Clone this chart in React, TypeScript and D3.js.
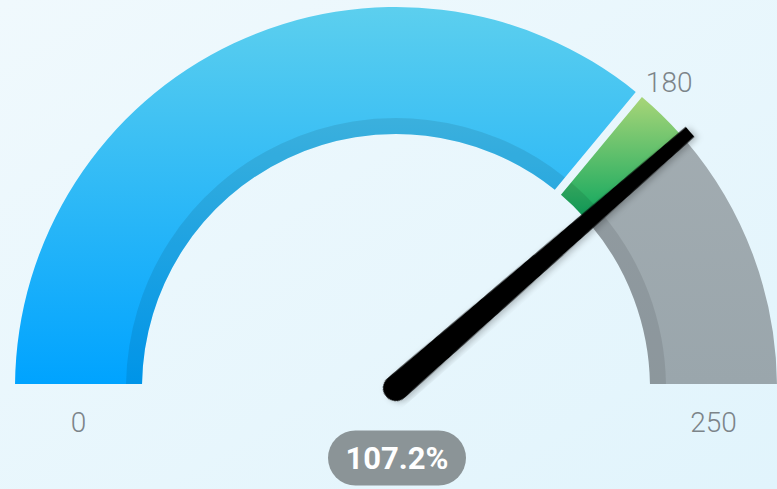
import * as d3 from 'd3';

const width = 777;
const height = 489;

// gauge data
const gaugeMin = 0;
const gaugeMax = 250;
const target = 180;
const value = 192.96;
const tickValues = [0, 180, 250];

const bands = [
    { name: 'base', from: 0, to: 180, fill: 'url(#gBlue)' },
    { name: 'over', from: 180, to: 192.96, fill: 'url(#gGreen)' },
    { name: 'rest', from: 192.96, to: 250, fill: 'url(#gGrey)' },
];

export default function App() {
    const cx = 396;
    const cy = 388;
    const outerR = 381;
    const innerR = 254;
    const shadeR = 270;

    const angle = d3.scaleLinear().domain([gaugeMin, gaugeMax]).range([-Math.PI / 2, Math.PI / 2]);

    const arc = d3.arc<any>()
        .padAngle(0.021)
        .padRadius(outerR);

    const toXY = (v: number, r: number) => {
        const a = angle(v);
        return [cx + r * Math.sin(a), cy - r * Math.cos(a)];
    };

    const needleDeg = (angle(value) - Math.PI / 2) * 180 / Math.PI;
    const needleLen = 390;
    const baseHalf = 13;
    const tipHalf = 6.5;
    const needlePath = `M0,${-baseHalf} L${needleLen},${-tipHalf} L${needleLen},${tipHalf} L0,${baseHalf} A${baseHalf},${baseHalf} 0 0 1 0,${-baseHalf} Z`;

    const pct = (value / target * 100).toFixed(1) + '%';
    const midR = (outerR + innerR) / 2;
    const [tx, ty] = toXY(target, outerR);

    return (
        <svg width={width} height={height} style={{ position: 'absolute', left: 0, top: 0, fontFamily: 'Roboto, sans-serif' }}>
            <defs>
                <linearGradient id="gBg" x1="0" y1="0" x2="1" y2="1">
                    <stop offset="0%" stopColor="#f0f9fd" />
                    <stop offset="100%" stopColor="#e1f4fc" />
                </linearGradient>
                {/* gradient coords are relative to the gauge centre */}
                <linearGradient id="gBlue" gradientUnits="userSpaceOnUse" x1="0" y1={8 - cy} x2="0" y2={384 - cy}>
                    <stop offset="0%" stopColor="#5ccfee" />
                    <stop offset="100%" stopColor="#00a3ff" />
                </linearGradient>
                <linearGradient id="gGreen" gradientUnits="userSpaceOnUse" x1="0" y1={100 - cy} x2="0" y2={215 - cy}>
                    <stop offset="0%" stopColor="#a4d477" />
                    <stop offset="100%" stopColor="#12a85f" />
                </linearGradient>
                <linearGradient id="gGrey" gradientUnits="userSpaceOnUse" x1="0" y1={130 - cy} x2="0" y2={384 - cy}>
                    <stop offset="0%" stopColor="#a2acb1" />
                    <stop offset="100%" stopColor="#9aa6ac" />
                </linearGradient>
                <filter id="needleShadow" x="-20%" y="-20%" width="140%" height="140%">
                    <feDropShadow dx="2" dy="3" stdDeviation="3" floodColor="#000" floodOpacity="0.25" />
                </filter>
            </defs>
            <rect width={width} height={height} fill="url(#gBg)" />

            <g transform={`translate(${cx},${cy})`}>
                {bands.map((b) => (
                    <g key={b.name}>
                        <path
                            d={arc({ innerRadius: innerR, outerRadius: outerR, startAngle: angle(b.from), endAngle: angle(b.to) }) || ''}
                            fill={b.fill}
                        />
                        <path
                            d={arc({ innerRadius: innerR, outerRadius: shadeR, startAngle: angle(b.from), endAngle: angle(b.to) }) || ''}
                            fill="#000"
                            opacity={0.09}
                        />
                    </g>
                ))}
            </g>

            {/* tick labels */}
            <g fill="#7c8489" fontSize={28} fontWeight={300}>
                <text x={toXY(tickValues[0], midR)[0]} y={cy + 44} textAnchor="middle">{tickValues[0]}</text>
                <text x={tx + 7} y={ty - 2} textAnchor="start">{tickValues[1]}</text>
                <text x={toXY(tickValues[2], midR)[0]} y={cy + 44} textAnchor="middle">{tickValues[2]}</text>
            </g>

            {/* needle */}
            <g transform={`translate(${cx},${cy}) rotate(${needleDeg})`} filter="url(#needleShadow)">
                <path d={needlePath} fill="#000" />
            </g>

            {/* value badge */}
            <g transform={`translate(${cx + 1},458)`}>
                <rect x={-69} y={-27.5} width={138} height={55} rx={27.5} fill="#8b9497" />
                <text x={0} y={11} textAnchor="middle" fill="#fff" fontSize={31} fontWeight={700}>{pct}</text>
            </g>
        </svg>
    );
}
